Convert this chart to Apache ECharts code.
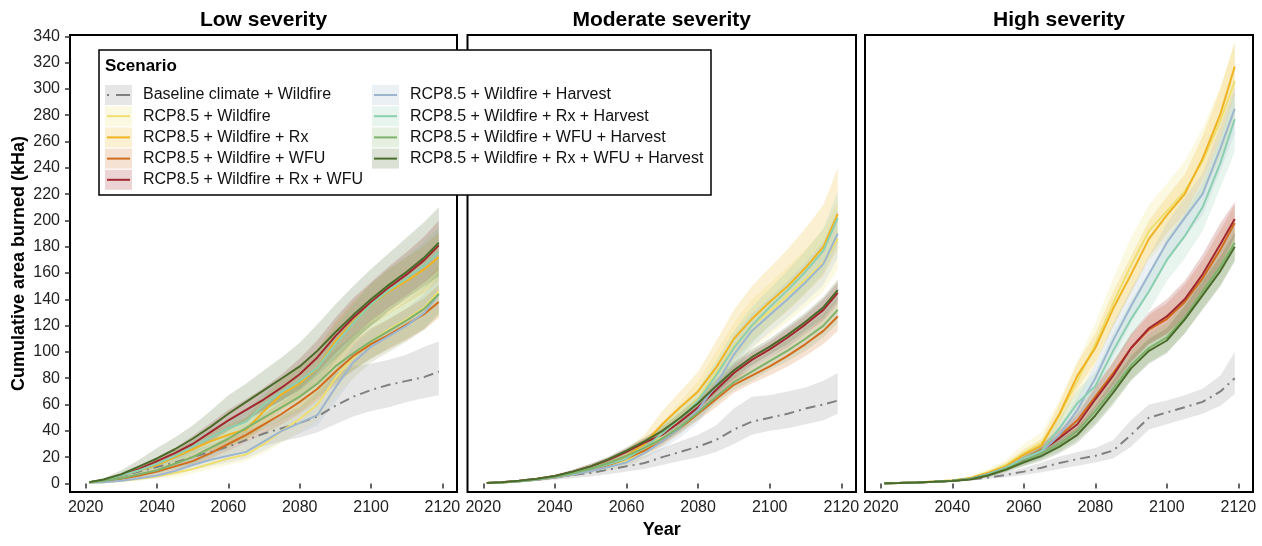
<!DOCTYPE html>
<html>
<head>
<meta charset="utf-8">
<script src="https://cdn.jsdelivr.net/npm/echarts@6/dist/echarts.min.js"></script>
<style>
  html, body { margin: 0; padding: 0; background: #fff; }
  #chart { width: 1262px; height: 546px; }
</style>
</head>
<body>
<div id="chart"></div>
<script>
// ---- data ----
var YEARS = [2021, 2025, 2030, 2035, 2040, 2045, 2050, 2055, 2060, 2065, 2070, 2075, 2080, 2085, 2090, 2095, 2100, 2105, 2110, 2115, 2119];
var X_TICKS = [2020, 2040, 2060, 2080, 2100, 2120];
var Y_TICKS = [0, 20, 40, 60, 80, 100, 120, 140, 160, 180, 200, 220, 240, 260, 280, 300, 320, 340];
var PANELS = ["Low severity", "Moderate severity", "High severity"];
var SCENARIOS = [
    "Baseline climate + Wildfire",
    "RCP8.5 + Wildfire",
    "RCP8.5 + Wildfire + Rx",
    "RCP8.5 + Wildfire + WFU",
    "RCP8.5 + Wildfire + Rx + WFU",
    "RCP8.5 + Wildfire + Harvest",
    "RCP8.5 + Wildfire + Rx + Harvest",
    "RCP8.5 + Wildfire + WFU + Harvest",
    "RCP8.5 + Wildfire + Rx + WFU + Harvest"
];

// Low severity: mean, lower and upper ribbon bound, one row per scenario
var LOW_MEAN = [
    [1, 2.5, 5.5, 9, 12.5, 16, 20, 24, 28, 33, 38, 42, 46, 51, 59, 66, 71, 75, 78, 81, 85],
    [0.5, 1, 2, 3.5, 5.5, 8, 11, 15, 19, 22, 30, 40, 49, 60, 80, 96, 108, 117, 125, 134, 146],
    [1, 2.5, 6, 10, 14, 20, 26, 32, 37, 41, 55, 68, 76, 88, 108, 123, 136, 146, 154, 163, 172],
    [1, 1.8, 3.5, 6, 9, 13, 17, 23, 30, 37, 45, 53, 62, 72, 85, 97, 106, 113, 121, 129, 138],
    [1, 2.5, 6, 11, 17, 23, 30, 39, 48, 56, 64, 73, 83, 96, 112, 126, 138, 149, 159, 170, 181],
    [0.5, 1, 2, 4, 6, 9.5, 14, 18, 21, 24, 32, 40, 46, 52, 73, 92, 104, 112, 120, 130, 144],
    [1, 2.5, 6, 10, 15, 21, 28, 35, 42, 47, 60, 70, 78, 88, 106, 122, 136, 147, 156, 166, 176],
    [1, 2, 4, 7, 10, 15, 20, 27, 34, 42, 50, 58, 66, 76, 89, 99, 108, 116, 124, 133, 144],
    [1, 3, 7, 13, 19, 26, 34, 43, 53, 62, 71, 80, 89, 101, 115, 128, 140, 151, 161, 172, 183]
];
var LOW_LO = [
    [0.5, 1.5, 4, 6.5, 9.5, 12, 15, 18.5, 22, 25, 28.5, 32, 35, 39, 45, 51, 55, 58, 62, 65, 67],
    [0.2, 0.5, 1, 2, 3.5, 5, 7.5, 11, 14, 17, 23, 31, 39, 48, 66, 80, 92, 100, 108, 117, 128],
    [0.5, 2, 4.5, 8, 11, 15, 20, 25, 29, 33, 44, 56, 64, 75, 93, 108, 120, 129, 137, 145, 154],
    [0.5, 1.2, 2.5, 4.5, 7, 10, 14, 19, 25, 31, 38, 45, 53, 63, 75, 86, 95, 102, 109, 117, 126],
    [0.5, 2, 5, 9, 14, 19, 25, 33, 41, 48, 55, 63, 72, 84, 99, 112, 124, 134, 143, 153, 162],
    [0.2, 0.5, 1.2, 2.5, 4, 7, 10, 13.5, 16, 19, 25, 32, 38, 44, 62, 80, 92, 100, 108, 117, 130],
    [0.5, 2, 4.5, 8, 12, 17, 23, 29, 35, 40, 51, 60, 67, 76, 93, 108, 120, 131, 139, 148, 157],
    [0.5, 1.2, 3, 5, 7.5, 11, 15, 21, 27, 34, 41, 48, 55, 65, 77, 86, 95, 103, 110, 118, 128],
    [0.5, 2, 5, 9, 13, 19, 25, 32, 40, 48, 56, 63, 71, 82, 95, 108, 120, 131, 141, 150, 158]
];
var LOW_HI = [
    [1.5, 3.5, 7.5, 12, 16.5, 20.5, 25, 29.5, 34, 40, 46, 52, 58, 70, 84, 89, 91, 94, 98, 104, 108],
    [1, 1.8, 3.5, 6, 8.5, 12, 16, 21, 26, 30, 39, 50, 61, 74, 95, 112, 125, 134, 143, 153, 166],
    [1.5, 3, 7.5, 12, 18, 25, 32, 39, 45, 50, 66, 80, 89, 102, 123, 138, 152, 163, 172, 181, 191],
    [1.5, 2.5, 4.5, 7.5, 11, 16, 21, 28, 36, 44, 53, 62, 72, 82, 96, 108, 118, 125, 133, 141, 151],
    [1.5, 3, 7, 13, 20, 27, 36, 46, 56, 64, 73, 83, 95, 109, 126, 141, 153, 165, 176, 188, 200],
    [1, 1.5, 3, 5.5, 8.5, 13, 18, 23, 27, 31, 40, 49, 56, 63, 86, 105, 117, 125, 133, 144, 158],
    [1.5, 3, 7.5, 12, 18, 25, 33, 41, 49, 55, 69, 80, 89, 100, 119, 136, 152, 163, 173, 184, 195],
    [1.5, 2.8, 5.5, 9, 13, 19, 25, 33, 41, 50, 59, 68, 77, 88, 102, 113, 122, 130, 139, 149, 161],
    [1.5, 4, 10, 18, 27, 35, 44, 55, 67, 76, 86, 96, 107, 121, 136, 150, 163, 175, 187, 199, 210]
];

// Moderate severity
var MOD_MEAN = [
    [0.3, 0.8, 1.7, 3, 4.5, 6.5, 8, 10.5, 13, 15.5, 20, 24, 28, 33, 41, 47, 50, 53, 57, 60, 63],
    [0.3, 0.8, 1.7, 3, 4.7, 7, 10, 13, 17, 25, 37, 50, 64, 84, 104, 120, 131, 143, 155, 168, 186],
    [0.3, 0.8, 1.7, 3.1, 5, 7.5, 11, 15, 21, 30, 45, 58, 70, 88, 110, 125, 138, 150, 164, 180, 205],
    [0.3, 0.7, 1.6, 2.8, 4.6, 7, 10, 14, 19, 25, 32, 42, 53, 64, 75, 82, 89, 97, 106, 116, 127],
    [0.3, 0.9, 2, 3.5, 5.6, 9, 13, 18, 24, 31, 37, 47, 58, 71, 84, 94, 102, 111, 121, 132, 145],
    [0.3, 0.7, 1.5, 2.8, 4.5, 6.8, 9.5, 12.5, 16, 23, 32, 42, 56, 75, 98, 116, 128, 140, 153, 167, 190],
    [0.3, 0.8, 1.7, 3.1, 5, 7.5, 11, 14.5, 19, 27, 38, 50, 63, 82, 103, 120, 134, 147, 161, 177, 202],
    [0.3, 0.8, 1.8, 3.1, 5, 7.8, 11.2, 15.5, 21, 27, 34, 43, 54, 66, 77, 85, 93, 101, 110, 120, 132],
    [0.3, 0.9, 2, 3.5, 5.6, 9, 13, 18.5, 25, 32, 40, 50, 61, 74, 86, 96, 104, 113, 123, 134, 147]
];
var MOD_LO = [
    [0.1, 0.4, 1, 1.8, 2.8, 4, 5.2, 7, 9, 11, 14, 17, 20, 24, 30, 37, 40, 42, 45, 48, 53],
    [0.2, 0.6, 1.2, 2.2, 3.5, 5.3, 7.5, 10, 13, 19, 29, 40, 52, 69, 87, 102, 112, 123, 134, 146, 163],
    [0.2, 0.6, 1.3, 2.4, 4, 6, 9, 12.5, 17, 25, 38, 49, 60, 75, 94, 108, 120, 131, 144, 158, 178],
    [0.2, 0.5, 1.2, 2.2, 3.8, 5.8, 8.5, 12, 16.5, 22, 28.5, 38, 48, 58, 69, 76, 82, 89, 97, 106, 116],
    [0.2, 0.7, 1.6, 2.9, 4.7, 7.6, 11, 16, 21.5, 28, 34, 43, 53, 66, 78, 88, 96, 104, 114, 124, 137],
    [0.2, 0.5, 1.1, 2.1, 3.5, 5.2, 7.5, 10, 13, 19, 26, 35, 46, 63, 84, 103, 115, 126, 138, 151, 172],
    [0.2, 0.6, 1.3, 2.4, 4, 6, 9, 12, 16, 22, 31, 42, 54, 71, 90, 106, 120, 132, 145, 160, 182],
    [0.2, 0.6, 1.4, 2.5, 4.1, 6.5, 9.5, 13.5, 18.5, 24, 30.5, 39, 49, 61, 71, 78, 86, 93, 101, 111, 122],
    [0.2, 0.7, 1.6, 2.9, 4.7, 7.6, 11, 16.5, 22.5, 29, 36.5, 46, 56.5, 69, 80, 90, 98, 106, 116, 126, 139]
];
var MOD_HI = [
    [0.5, 1.2, 2.4, 4.2, 6.2, 9, 11, 14.5, 18, 21, 27, 32, 37, 44, 57, 66, 67, 70, 73, 78, 84],
    [0.4, 1.1, 2.2, 3.8, 6, 9, 13, 17, 22, 32, 47, 62, 78, 100, 122, 140, 152, 165, 178, 193, 214],
    [0.4, 1.1, 2.2, 3.8, 6, 9.5, 13.5, 18.5, 26, 37, 55, 70, 85, 108, 132, 150, 164, 178, 194, 212, 240],
    [0.4, 0.9, 2, 3.4, 5.4, 8.2, 11.5, 16, 21.5, 28, 35.5, 46, 58, 70, 81, 88, 96, 105, 115, 126, 138],
    [0.4, 1.1, 2.4, 4.1, 6.5, 10.4, 15, 20, 26.5, 34, 40, 51, 63, 76, 90, 100, 108, 118, 128, 140, 153],
    [0.4, 0.9, 1.9, 3.5, 5.5, 8.4, 11.5, 15, 19, 27, 38, 49, 66, 87, 112, 129, 141, 154, 168, 184, 208],
    [0.4, 1, 2.1, 3.8, 6, 9, 13, 17, 22, 32, 45, 58, 72, 93, 116, 134, 148, 162, 177, 194, 222],
    [0.4, 1, 2.2, 3.7, 5.9, 9.1, 13, 17.5, 23.5, 30, 37.5, 47, 59, 71, 83, 92, 100, 109, 119, 129, 142],
    [0.4, 1.1, 2.4, 4.1, 6.5, 10.4, 15, 20.5, 27.5, 35, 43.5, 54, 65.5, 79, 92, 102, 110, 120, 130, 142, 155]
];

// High severity
var HIGH_MEAN = [
    [0.2, 0.4, 0.8, 1.3, 2, 3, 4.5, 6.5, 9, 12, 15.5, 18.5, 21, 25, 37, 50, 54, 58, 62, 70, 80],
    [0.2, 0.4, 0.8, 1.4, 2.3, 4.2, 8.5, 14, 23, 31, 52, 78, 106, 137, 166, 192, 207, 222, 245, 276, 306],
    [0.2, 0.4, 0.8, 1.4, 2.2, 4, 8, 13, 22, 29, 53, 82, 103, 133, 159, 186, 204, 220, 247, 281, 317],
    [0.2, 0.4, 0.8, 1.3, 2, 3.3, 6.5, 11.5, 18.6, 26, 36, 48, 66, 84, 103, 117, 125, 138, 156, 178, 198],
    [0.2, 0.4, 0.8, 1.3, 2, 3.5, 7, 12, 18.6, 25, 34.5, 45, 64, 82, 103, 118, 127, 140, 159, 182, 201],
    [0.2, 0.4, 0.8, 1.3, 2, 3.5, 7, 12, 19, 24, 37, 56, 80, 109, 135, 159, 183, 202, 220, 255, 285],
    [0.2, 0.4, 0.8, 1.3, 2, 3.5, 7, 12, 19, 25, 42, 61, 74, 101, 125, 146, 170, 188, 210, 244, 277],
    [0.2, 0.4, 0.8, 1.3, 2, 3.3, 6.5, 11, 17, 23, 30, 40, 55, 72, 90, 103, 111, 126, 146, 165, 183],
    [0.2, 0.4, 0.8, 1.3, 1.8, 3, 6, 10.5, 16, 21, 28, 37, 51.7, 69, 87.5, 100.8, 108.7, 124.6, 143, 161.7, 180]
];
var HIGH_LO = [
    [0.1, 0.3, 0.6, 1, 1.5, 2.2, 3.3, 4.8, 6.5, 8.5, 11, 13.5, 16, 19, 28, 41, 45, 49, 53, 59, 68],
    [0.1, 0.3, 0.6, 1, 1.7, 3, 6, 10, 17, 24, 41, 63, 90, 118, 145, 170, 185, 200, 220, 248, 276],
    [0.1, 0.3, 0.6, 1.1, 1.8, 3.2, 6.5, 10.5, 18, 24, 45, 72, 92, 120, 145, 172, 190, 205, 230, 262, 296],
    [0.1, 0.3, 0.6, 1, 1.6, 2.6, 5.2, 9.2, 15.5, 22, 30.5, 41, 58, 75, 93, 106, 113, 125, 142, 163, 184],
    [0.1, 0.3, 0.6, 1, 1.6, 2.8, 5.5, 9.5, 15, 20.5, 28.5, 37.5, 55, 72, 92, 106, 114, 126, 144, 166, 188],
    [0.1, 0.3, 0.6, 1, 1.6, 2.8, 5.5, 9.5, 15, 19, 30, 47, 69, 96, 122, 145, 168, 187, 204, 238, 266],
    [0.1, 0.3, 0.6, 1, 1.6, 2.8, 5.5, 9.5, 15, 20, 34, 51, 63, 88, 111, 131, 154, 171, 192, 225, 252],
    [0.1, 0.3, 0.6, 1, 1.6, 2.6, 5.2, 8.8, 13.5, 18.5, 24.5, 33, 46, 62, 79, 92, 100, 114, 133, 151, 170],
    [0.1, 0.3, 0.6, 1, 1.4, 2.4, 4.8, 8.5, 13, 17, 23, 31, 44, 60, 78, 91, 99, 114, 132, 150, 169]
];
var HIGH_HI = [
    [0.3, 0.6, 1.1, 1.7, 2.6, 4, 6, 8.5, 12, 16, 20.5, 24, 27, 33, 48, 60, 63, 67, 72, 82, 100],
    [0.3, 0.6, 1.1, 1.9, 3.2, 5.8, 11, 18, 30, 39, 64, 93, 122, 156, 187, 212, 228, 245, 270, 302, 335],
    [0.3, 0.5, 1, 1.7, 2.7, 5, 9.5, 16, 26, 34, 61, 92, 114, 146, 173, 200, 218, 235, 264, 300, 336],
    [0.3, 0.5, 1, 1.6, 2.4, 4, 7.8, 13.8, 21.7, 30, 41.5, 55, 74, 93, 113, 128, 137, 151, 170, 193, 212],
    [0.3, 0.5, 1, 1.6, 2.5, 4.3, 8.5, 14.5, 22, 29.5, 40.5, 52.5, 73, 92, 114, 130, 140, 154, 174, 198, 214],
    [0.3, 0.5, 1, 1.6, 2.5, 4.3, 8.5, 14.5, 23, 29, 44, 65, 91, 122, 148, 173, 198, 217, 236, 272, 302],
    [0.3, 0.5, 1, 1.6, 2.5, 4.3, 8.5, 14.5, 23, 30, 50, 71, 85, 114, 139, 161, 186, 205, 228, 263, 298],
    [0.3, 0.5, 1, 1.6, 2.4, 4, 7.8, 13.2, 20.5, 27.5, 35.5, 47, 64, 82, 101, 114, 122, 138, 159, 179, 196],
    [0.3, 0.5, 1, 1.6, 2.2, 3.6, 7.2, 12.5, 19, 25, 33, 43, 59, 78, 97, 110, 118, 135, 154, 173, 191]
];

// ---- styles ----
var COLORS = ["#808080", "#EEDF70", "#F0B323", "#D06D1F", "#A1282F", "#9DB5CF", "#8CCFB0", "#7DB36B", "#4B6B2A"];
var BASE_DASH = [10, 5, 2, 5];
var FONT = "Liberation Sans, Arial, Helvetica, sans-serif";
var GRID_LEFT = [70, 467.5, 865];
var GRID_WIDTH = [387, 388.5, 388];
var GRID_TOP = 35, GRID_HEIGHT = 457;

var chart = echarts.init(document.getElementById("chart"), null, { renderer: "canvas" });

function ribbon(p, s, lo, hi) {
    return {
        type: "custom",
        xAxisIndex: p, yAxisIndex: p,
        silent: true, z: 1,
        data: [[YEARS[0], lo[0]]],
        renderItem: function (params, api) {
            var pts = [];
            for (var i = 0; i < YEARS.length; i++) pts.push(api.coord([YEARS[i], hi[i]]));
            for (var j = YEARS.length - 1; j >= 0; j--) pts.push(api.coord([YEARS[j], lo[j]]));
            return { type: "polygon", shape: { points: pts }, style: { fill: COLORS[s], opacity: 0.2 } };
        }
    };
}

function line(p, s, mean) {
    return {
        type: "line", name: SCENARIOS[s],
        xAxisIndex: p, yAxisIndex: p,
        silent: true, z: 3,
        showSymbol: false, symbol: "none",
        data: YEARS.map(function (y, i) { return [y, mean[i]]; }),
        lineStyle: { color: COLORS[s], width: 2, type: s === 0 ? BASE_DASH : "solid" }
    };
}

var panelData = [[LOW_MEAN, LOW_LO, LOW_HI], [MOD_MEAN, MOD_LO, MOD_HI], [HIGH_MEAN, HIGH_LO, HIGH_HI]];
var series = [];
panelData.forEach(function (d, p) {
    for (var s = 0; s < SCENARIOS.length; s++) series.push(ribbon(p, s, d[1][s], d[2][s]));
    for (var s2 = 0; s2 < SCENARIOS.length; s2++) series.push(line(p, s2, d[0][s2]));
});

function plain(v) { return String(v); }

var grids = [], xAxes = [], yAxes = [];
for (var p = 0; p < 3; p++) {
    grids.push({
        left: GRID_LEFT[p], top: GRID_TOP, width: GRID_WIDTH[p], height: GRID_HEIGHT,
        show: true, borderColor: "#000", borderWidth: 2, backgroundColor: "transparent"
    });
    xAxes.push({
        type: "value", gridIndex: p, min: 2015.6, max: 2124.1,
        splitLine: { show: false },
        axisLine: { show: false },
        axisTick: { show: true, length: 5, lineStyle: { color: "#333", width: 1.5 }, customValues: X_TICKS },
        axisLabel: { customValues: X_TICKS, formatter: plain, fontSize: 16, color: "#222", margin: 8, fontFamily: FONT },
        name: p === 1 ? "Year" : "",
        nameLocation: "middle", nameGap: 28,
        nameTextStyle: { fontSize: 18, fontWeight: "bold", color: "#000", fontFamily: FONT }
    });
    yAxes.push({
        type: "value", gridIndex: p, min: -6.5, max: 341,
        splitLine: { show: false },
        axisLine: { show: false },
        axisTick: { show: p === 0, length: 5, lineStyle: { color: "#333", width: 1.5 }, customValues: Y_TICKS },
        axisLabel: { show: p === 0, customValues: Y_TICKS, formatter: plain, fontSize: 16, color: "#222", margin: 10, fontFamily: FONT },
        name: p === 0 ? "Cumulative area burned (kHa)" : "",
        nameLocation: "middle", nameGap: 42, nameRotate: 90,
        nameTextStyle: { fontSize: 18, fontWeight: "bold", color: "#000", fontFamily: FONT }
    });
}

// panel titles + legend box drawn as graphic elements
var graphics = [];
PANELS.forEach(function (t, p) {
    graphics.push({
        type: "text", x: GRID_LEFT[p] + GRID_WIDTH[p] / 2, y: 20, z: 50,
        style: { text: t, font: "bold 21px " + FONT, fill: "#000", align: "center", verticalAlign: "middle" }
    });
});

var legendItems = [
    { type: "rect", shape: { x: 99, y: 50, width: 612, height: 145 }, style: { fill: "#fff", stroke: "#000", lineWidth: 1.5 } },
    { type: "text", x: 105, y: 66, style: { text: "Scenario", font: "bold 17px " + FONT, fill: "#000", verticalAlign: "middle" } }
];
SCENARIOS.forEach(function (name, i) {
    var col = i < 5 ? 0 : 1, row = i < 5 ? i : i - 5;
    var sx = [105, 372][col], tx = [143, 410][col], cy = 95 + row * 21.2;
    legendItems.push({ type: "rect", shape: { x: sx, y: cy - 10, width: 27, height: 20 }, style: { fill: COLORS[i], opacity: 0.2 } });
    legendItems.push({
        type: "line", shape: { x1: sx + 2, y1: cy, x2: sx + 25, y2: cy },
        style: { stroke: COLORS[i], lineWidth: 2, lineDash: i === 0 ? [2, 7, 14, 4] : null }
    });
    legendItems.push({ type: "text", x: tx, y: cy, style: { text: name, font: "16px " + FONT, fill: "#111", verticalAlign: "middle" } });
});
graphics.push({ type: "group", z: 100, children: legendItems });

chart.setOption({
    animation: false,
    backgroundColor: "#fff",
    textStyle: { fontFamily: FONT },
    grid: grids,
    xAxis: xAxes,
    yAxis: yAxes,
    series: series,
    graphic: graphics
});
</script>
</body>
</html>
